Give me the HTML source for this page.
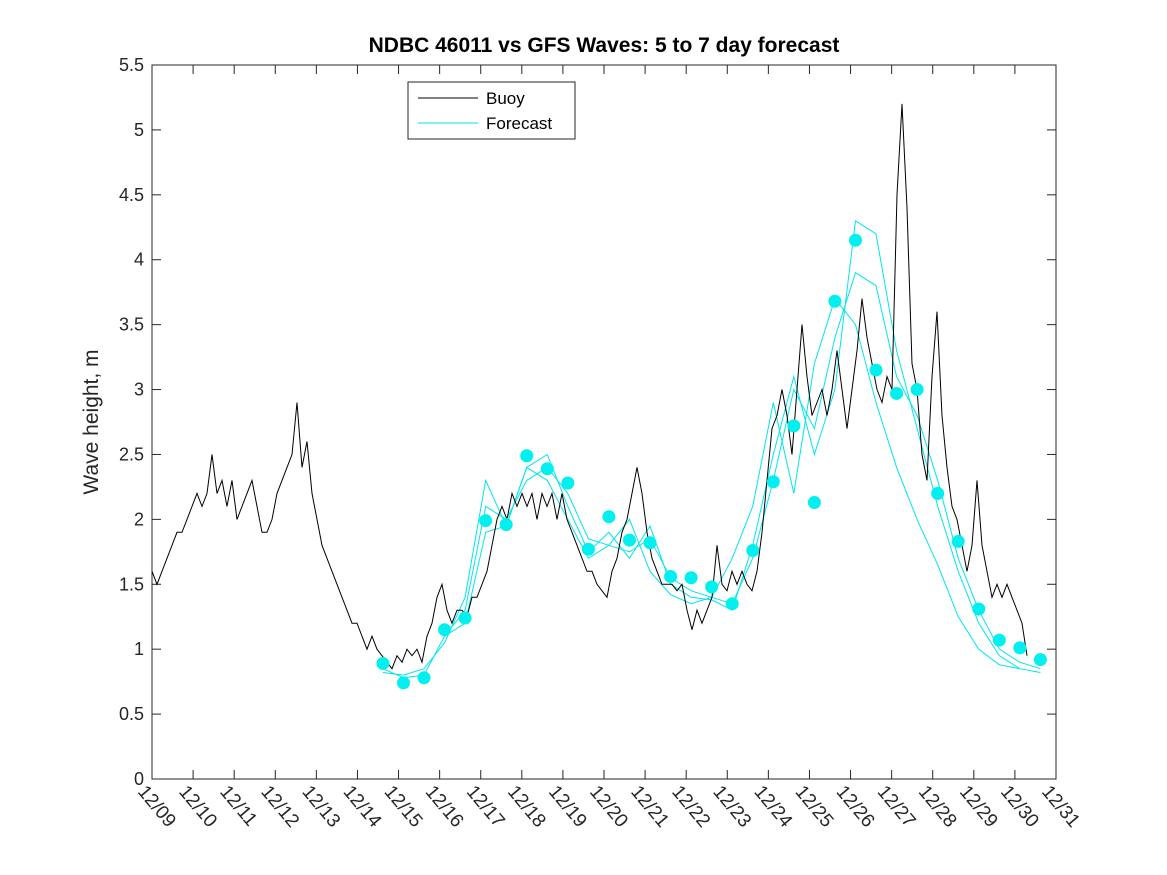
<!DOCTYPE html>
<html><head><meta charset="utf-8"><style>
body{margin:0;background:#fff;}
svg{display:block;font-family:"Liberation Sans","DejaVu Sans",sans-serif;}
</style></head><body>
<svg id="chart" width="1167" height="875" viewBox="0 0 1167 875">
<rect width="1167" height="875" fill="#fff"/>
<text x="604" y="52" text-anchor="middle" font-size="21" font-weight="bold" fill="#000">NDBC 46011 vs GFS Waves: 5 to 7 day forecast</text>
<rect x="152" y="65" width="904" height="714" fill="#fff" stroke="#262626" stroke-width="1"/>
<g id="yticks"></g>
<g id="xticks"></g>
<text transform="translate(98,422) rotate(-90)" text-anchor="middle" font-size="21" fill="#262626">Wave height, m</text>
<g id="series"></g>
<g>
<rect x="408" y="82" width="167" height="57" fill="#fff" stroke="#262626" stroke-width="1"/>
<line x1="418" y1="98" x2="478" y2="98" stroke="#000" stroke-width="1"/>
<text x="486" y="104" font-size="17" fill="#000">Buoy</text>
<line x1="418" y1="123" x2="478" y2="123" stroke="#00e5ee" stroke-width="1"/>
<text x="486" y="129" font-size="17" fill="#000">Forecast</text>
</g>
</svg>
<script>
const xTickLabels=["12/09","12/10","12/11","12/12","12/13","12/14","12/15","12/16","12/17","12/18","12/19","12/20","12/21","12/22","12/23","12/24","12/25","12/26","12/27","12/28","12/29","12/30","12/31"];
const yTickValues=[0,0.5,1,1.5,2,2.5,3,3.5,4,4.5,5,5.5];
const buoyStart=0, buoyStep=0.12168;
const buoyValues=[1.6,1.5,1.6,1.7,1.8,1.9,1.9,2.0,2.1,2.2,2.1,2.2,2.5,2.2,2.3,2.1,2.3,2.0,2.1,2.2,2.3,2.1,1.9,1.9,2.0,2.2,2.3,2.4,2.5,
2.9,2.4,2.6,2.2,2.0,1.8,1.7,1.6,1.5,1.4,1.3,1.2,1.2,1.1,1.0,1.1,1.0,0.95,0.9,0.85,0.95,0.9,1.0,0.95,1.0,0.9,1.1,1.2,1.4,1.5,1.3,1.2,1.3,1.3,1.25,1.4,1.4,1.5,1.6,1.8,2.0,2.1,2.0,2.2,2.1,2.2,2.1,2.2,2.0,2.2,2.1,2.2,2.0,2.2,2.0,1.9,1.8,1.7,1.6,1.6,1.5,1.45,1.4,1.6,1.7,1.9,2.0,2.2,2.4,2.2,1.9,1.7,1.6,1.5,1.5,1.5,1.45,1.5,1.3,1.15,1.3,1.2,1.3,1.4,1.8,1.5,1.45,1.6,1.5,1.6,1.5,1.45,1.6,1.9,2.3,2.7,2.8,3.0,2.8,2.5,3.0,3.5,3.1,2.8,2.9,3.0,2.8,3.0,3.3,3.0,2.7,3.0,3.3,3.7,3.4,3.2,3.0,2.9,3.1,3.0,4.5,5.2,4.4,3.2,3.0,2.5,2.3,3.1,3.6,2.8,2.4,2.1,2.0,1.8,1.6,1.8,2.3,1.8,1.6,1.4,1.5,1.4,1.5,1.4,1.3,1.2,0.95];
const dotStart=5.62, dotStep=0.5;
const dotValues=[0.89,0.74,0.78,1.15,1.24,1.99,1.96,2.49,2.39,2.28,1.77,2.02,1.84,1.82,1.56,1.55,1.48,1.35,1.76,2.29,2.72,2.13,3.68,4.15,3.15,2.97,3.0,2.2,1.83,1.31,1.07,1.01,0.92];
const runAStart=5.62;
const runAValues=[0.85,0.78,0.8,1.1,1.3,2.1,2.0,2.3,2.4,2.2,1.85,1.8,1.75,1.85,1.55,1.45,1.4,1.35,1.7,2.3,3.0,2.7,3.4,3.9,3.8,3.1,2.8,2.3,1.7,1.3,1.0,0.9,0.85];
const runBStart=5.62;
const runBValues=[0.82,0.8,0.85,1.05,1.4,2.3,1.95,2.4,2.5,2.1,1.75,1.9,1.7,1.95,1.5,1.4,1.38,1.3,1.8,2.5,3.1,2.5,3.0,4.3,4.2,3.3,2.7,2.1,1.6,1.2,0.95,0.85,0.82];
const runCStart=7.12;
const runCValues=[1.1,1.2,1.9,1.95,2.4,2.3,2.0,1.7,1.8,2.0,1.6,1.42,1.35,1.4,1.7,2.1,2.9,2.2,3.2,3.7,3.5,2.9,2.4,2.0,1.65,1.25,1.0,0.88,0.85];
const runStep=0.5;

const X0=152,X1=1056,Y0=779,Y1=65;
function xScale(d){return X0+(X1-X0)*d/22;}
function yScale(v){return Y0-(Y0-Y1)*v/5.5;}
const NS="http://www.w3.org/2000/svg";
function mk(tag,attrs,parent){const e=document.createElementNS(NS,tag);for(const k in attrs)e.setAttribute(k,attrs[k]);parent.appendChild(e);return e;}

const yt=document.getElementById('yticks');
yTickValues.forEach(v=>{
  const y=yScale(v);
  const t1=mk('line',{x1:X0,y1:y,x2:X0+9,y2:y,stroke:'#262626'},yt);
  
  
  const t2=mk('line',{x1:X1,y1:y,x2:X1-9,y2:y,stroke:'#262626'},yt);
  
  
  const tx=mk('text',{x:X0-8,y:y+6,'text-anchor':'end','font-size':'18',fill:'#262626'},yt);
  tx.textContent=String(v);
  
  
});
const xt=document.getElementById('xticks');
xTickLabels.forEach((lab,i)=>{
  const x=xScale(i);
  const t1=mk('line',{x1:x,y1:Y0,x2:x,y2:Y0-9,stroke:'#262626'},xt);
  
  
  const t2=mk('line',{x1:x,y1:Y1,x2:x,y2:Y1+9,stroke:'#262626'},xt);
  
  
  const tx=mk('text',{transform:`translate(${x-15},${Y0+13}) rotate(50)`,'font-size':'19',fill:'#262626'},xt);
  tx.textContent=lab;
  
  
});
const sg=document.getElementById('series');
function pts(start,step,vals){return vals.map((v,i)=>xScale(start+i*step).toFixed(1)+','+yScale(v).toFixed(1)).join(' ');}
[[runAStart,runAValues],[runBStart,runBValues],[runCStart,runCValues]].forEach(([s,v])=>{
  const pl=mk('polyline',{points:pts(s,runStep,v),fill:'none',stroke:'#00e5ee','stroke-width':'1'},sg);
  
  
});
const bl=mk('polyline',{points:pts(buoyStart,buoyStep,buoyValues),fill:'none',stroke:'#000','stroke-width':'1'},sg);


dotValues.forEach((v,i)=>{
  const c=mk('circle',{cx:xScale(dotStart+i*dotStep),cy:yScale(v),r:6.5,fill:'#00f0f0'},sg);
  
  
});
</script>
</body></html>
